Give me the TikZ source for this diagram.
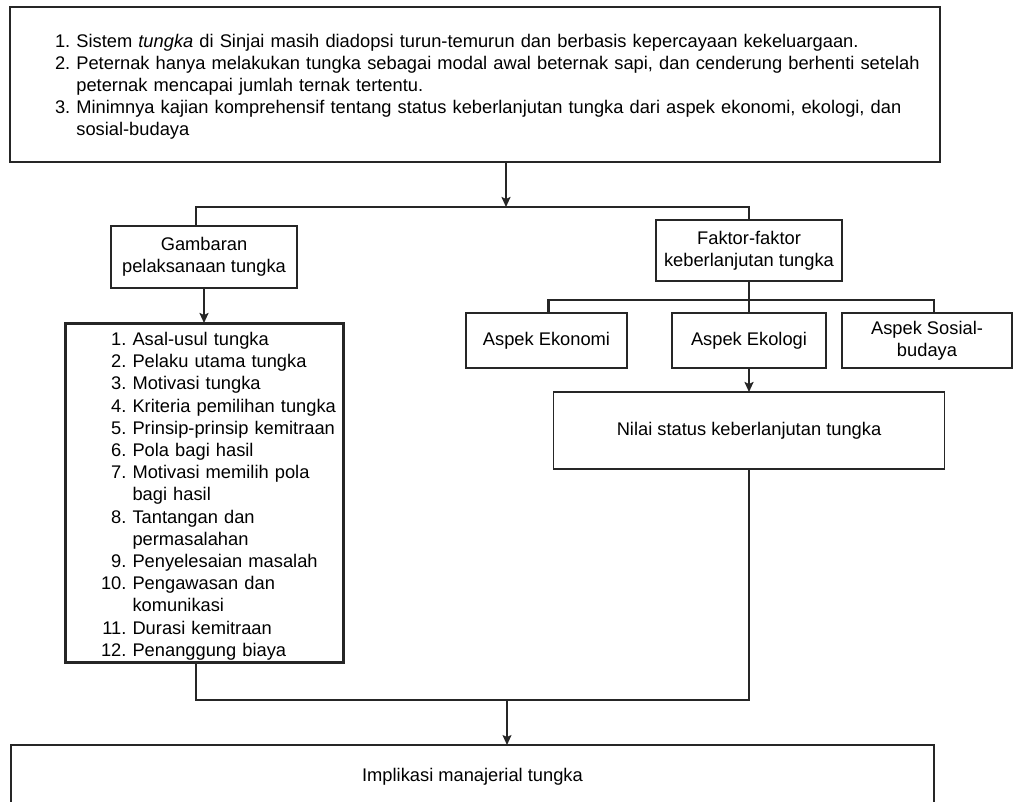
\documentclass[tikz,border=0pt]{standalone}
\usepackage{fontspec}
\setmainfont{Liberation Sans}
\usetikzlibrary{arrows.meta}

\begin{document}
\begin{tikzpicture}[x=1pt, y=-1pt,
    box/.style ={draw=black!85, line width=2.6pt, inner sep=0pt, outer sep=0pt,
      align=center, font=\fontsize{18.3}{22}\selectfont},
    thinbox/.style ={box, line width=1.6pt},
    link/.style ={draw=black!85, line width=2.2pt},
    thinlink/.style ={draw=black!85, line width=1.5pt},
    arr/.style ={-{Stealth[length=10pt, width=9pt, inset=2pt]}}]
   \useasboundingbox (0,0) rectangle (1016,801);
   \node[thinbox, minimum height=155, text width=840, inner xsep=45pt, align=left] (problem) at (475,84.5) {%
     \raisebox{-2.5pt}[\height][\depth]{\begin{tabular}{@{}r@{\ }l@{}}
     1. & Sistem \textit{tungka} di Sinjai masih diadopsi turun-temurun dan berbasis kepercayaan kekeluargaan.\\
     2. & Peternak hanya melakukan tungka sebagai modal awal beternak sapi, dan cenderung berhenti setelah\\
        & peternak mencapai jumlah ternak tertentu.\\
     3. & Minimnya kajian komprehensif tentang status keberlanjutan tungka dari aspek ekonomi, ekologi, dan\\
        & sosial-budaya
     \end{tabular}}};
   \node[box, minimum width=186, minimum height=62] (gambaran) at (204,257) {Gambaran\\pelaksanaan tungka};
   \node[box, minimum width=186, minimum height=61] (faktor) at (749,250.5) {Faktor-faktor\\keberlanjutan tungka};
   \node[box, minimum width=161, minimum height=55] (ekonomi) at (546.5,340.5) {Aspek Ekonomi};
   \node[box, minimum width=154, minimum height=55] (ekologi) at (749,340.5) {Aspek Ekologi};
   \node[box, minimum width=170, minimum height=55] (sosial) at (927,340.5) {Aspek Sosial-\\budaya};
   \node[thinbox, minimum width=391, minimum height=77] (nilai) at (749,430.5) {Nilai status keberlanjutan tungka};
   \node[box, line width=3pt, minimum height=339, text width=206, inner xsep=36pt, align=left,
     font=\fontsize{18.3}{22.2}\selectfont] (rincian) at (204,492.5) {%
     \raisebox{-4pt}[\height][\depth]{\begin{tabular}{@{}r@{\ }l@{}}
     1. & Asal-usul tungka\\
     2. & Pelaku utama tungka\\
     3. & Motivasi tungka\\
     4. & Kriteria pemilihan tungka\\
     5. & Prinsip-prinsip kemitraan\\
     6. & Pola bagi hasil\\
     7. & Motivasi memilih pola\\
        & bagi hasil\\
     8. & Tantangan dan\\
        & permasalahan\\
     9. & Penyelesaian masalah\\
     10. & Pengawasan dan\\
         & komunikasi\\
     11. & Durasi kemitraan\\
     12. & Penanggung biaya
     \end{tabular}}};
   \node[box, minimum width=923, minimum height=64] (implikasi) at (472.5,777) {Implikasi manajerial tungka};
   \coordinate (split) at (506,207);
   \coordinate (branch) at (749,300);
   \coordinate (merge) at (507,700);
   \draw[link, arr] (split |- problem.south) -- (split);
   \draw[link] ([xshift=-8]gambaran.north) |- (split) -| (faktor.north);
   \draw[link, arr] (gambaran.south) -- (rincian.north);
   \draw[link] (faktor.south) -- (ekologi.north);
   \draw[link] ([xshift=2]ekonomi.north) |- (branch) -| ([xshift=7]sosial.north);
   \draw[link, arr] (ekologi.south) -- (nilai.north);
   \draw[thinlink] ([xshift=-8]rincian.south) |- (merge) -| (nilai.south);
   \draw[thinlink, arr] (merge) -- (merge |- implikasi.north);
 \end{tikzpicture}
\end{document}
